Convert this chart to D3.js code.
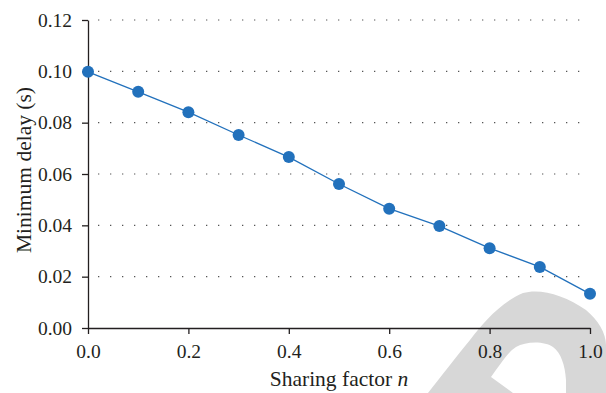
<!DOCTYPE html>
<html>
<head>
<meta charset="utf-8">
<script src="https://cdn.jsdelivr.net/npm/d3@7"></script>
<style>
  body { margin: 0; background: #fff; }
  text { font-family: "Liberation Serif", "DejaVu Serif", serif; fill: #231f20; }
</style>
</head>
<body>
<div id="chart"></div>
<script>
// Chart data
var sharingFactor = [0.0, 0.1, 0.2, 0.3, 0.4, 0.5, 0.6, 0.7, 0.8, 0.9, 1.0];
var minDelay = [0.0998, 0.0920, 0.0841, 0.0752, 0.0666, 0.0561, 0.0465, 0.0397, 0.0311, 0.0238, 0.0133];
var xTicks = [0.0, 0.2, 0.4, 0.6, 0.8, 1.0];
var yTicks = [0.00, 0.02, 0.04, 0.06, 0.08, 0.10, 0.12];

// SVG area
var svgWidth = 606;
var svgHeight = 393;

var margin = { top: 20, right: 16, bottom: 65, left: 88 };

var width = svgWidth - margin.left - margin.right;
var height = svgHeight - margin.top - margin.bottom;

var svg = d3.select("#chart")
  .append("svg")
  .attr("width", svgWidth)
  .attr("height", svgHeight);

// watermark shape in the lower right corner
svg.append("path")
  .attr("d", "M428,393 C440,378 456,357 470,340 C483,323 500,303 523,293 C540,288 565,295 586,310 C598,320 606,333 606,345 L606,393 Z" +
             " M491,377 C500,365 508,352 516,347 C526,341 545,341 553,347 C561,353 565,365 566,380 L566,393 L513,393 Z")
  .attr("fill", "#d7d7d7")
  .attr("fill-rule", "evenodd");

var chartGroup = svg.append("g")
  .attr("transform", `translate(${margin.left}, ${margin.top})`);

var xScale = d3.scaleLinear().domain([0, 1]).range([0, width]);
var yScale = d3.scaleLinear().domain([0, 0.12]).range([height, 0]);

// dotted gridlines
chartGroup.append("g")
  .selectAll("line")
  .data(yTicks.filter(d => d > 0))
  .enter()
  .append("line")
  .attr("x1", 10)
  .attr("x2", width - 7)
  .attr("y1", d => yScale(d))
  .attr("y2", d => yScale(d))
  .attr("stroke", "#555")
  .attr("stroke-width", 1.1)
  .attr("stroke-dasharray", "1.3,10.7");

// axes
var bottomAxis = d3.axisBottom(xScale)
  .tickValues(xTicks)
  .tickFormat(d3.format(".1f"))
  .tickSize(6)
  .tickPadding(10)
  .tickSizeOuter(0);

var leftAxis = d3.axisLeft(yScale)
  .tickValues(yTicks)
  .tickFormat(d3.format(".2f"))
  .tickSize(6)
  .tickPadding(10)
  .tickSizeOuter(0);

var xAxis = chartGroup.append("g")
  .attr("transform", `translate(0, ${height})`)
  .call(bottomAxis);

var yAxis = chartGroup.append("g")
  .call(leftAxis);

[xAxis, yAxis].forEach(function(ax) {
  ax.selectAll("path, line").attr("stroke", "#231f20").attr("stroke-width", 1.3);
  ax.selectAll("text")
    .attr("font-size", "19.5px")
    .attr("font-family", "'Liberation Serif', serif")
    .attr("fill", "#231f20");
});

// line and markers
var line = d3.line()
  .x((d, i) => xScale(sharingFactor[i]))
  .y(d => yScale(d));

chartGroup.append("path")
  .datum(minDelay)
  .attr("d", line)
  .attr("fill", "none")
  .attr("stroke", "#2271bc")
  .attr("stroke-width", 1.3);

chartGroup.selectAll("circle")
  .data(minDelay)
  .enter()
  .append("circle")
  .attr("cx", (d, i) => xScale(sharingFactor[i]))
  .attr("cy", d => yScale(d))
  .attr("r", 6)
  .attr("fill", "#2271bc");

// axis labels
var xLabel = chartGroup.append("text")
  .attr("x", width / 2)
  .attr("y", height + 58)
  .attr("text-anchor", "middle")
  .attr("font-size", "21.5px");
xLabel.append("tspan").text("Sharing factor ");
xLabel.append("tspan").attr("font-style", "italic").text("n");

chartGroup.append("text")
  .attr("transform", "rotate(-90)")
  .attr("x", -150)
  .attr("y", -57)
  .attr("text-anchor", "middle")
  .attr("font-size", "21.5px")
  .text("Minimum delay (s)");
</script>
</body>
</html>
